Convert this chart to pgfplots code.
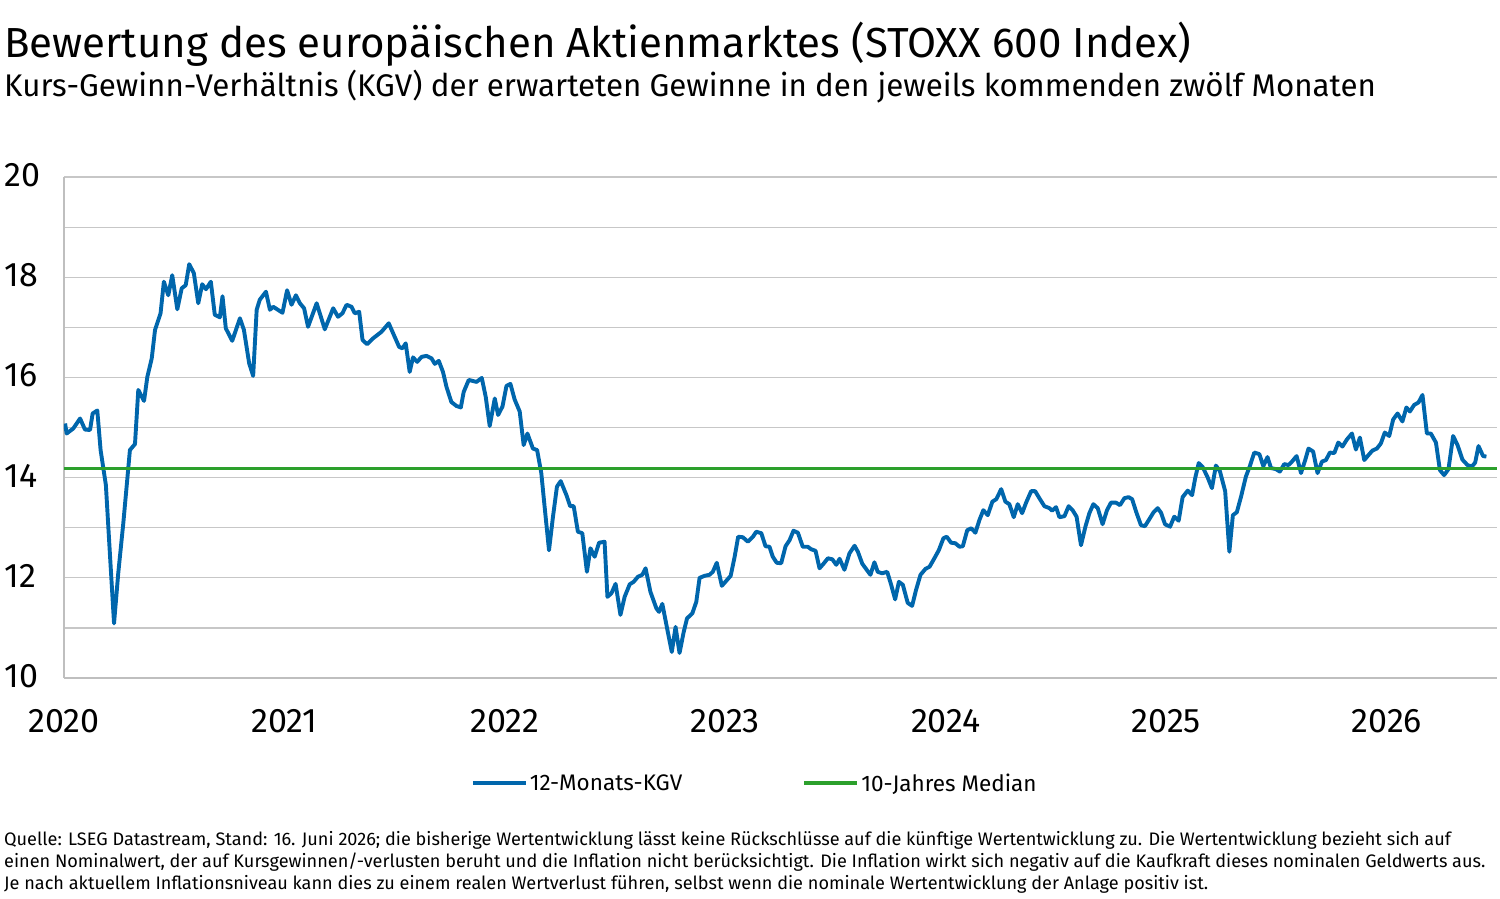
\documentclass[border=0pt]{standalone}
\usepackage{fontspec}
\setmainfont{Fira Sans}
\usepackage{pgfplots}
\pgfplotsset{compat=1.18}
\definecolor{kgvblue}{RGB}{0,102,172}
\definecolor{medgreen}{RGB}{44,160,44}
\begin{document}
\begin{tikzpicture}[x=1pt,y=1pt]
\path[use as bounding box] (0,0) rectangle (1500,-898);
\node[anchor=base west, inner sep=0] at (4,-57) {\fontsize{42}{50}\selectfont Bewertung des europäischen Aktienmarktes (STOXX 600 Index)};
\node[anchor=base west, inner sep=0] at (4,-96) {\fontsize{31.3}{37}\selectfont Kurs-Gewinn-Verhältnis (KGV) der erwarteten Gewinne in den jeweils kommenden zwölf Monaten};
\begin{axis}[
  at={(64pt,-678pt)}, anchor=south west,
  scale only axis, width=1433pt, height=501pt,
  xmin=2020, xmax=2026.5, ymin=10, ymax=20,
  xtick={2020,2021,2022,2023,2024,2025,2026},
  xticklabels={2020,2021,2022,2023,2024,2025,2026},
  ytick={10,11,12,13,14,15,16,17,18,19,20},
  yticklabels={10,{},12,{},14,{},16,{},18,{},20},
  ymajorgrids, grid style={black!22, line width=1.2pt},
  axis lines*=left, axis line style={black!25, line width=1.2pt},
  major tick length=0pt,
  tick label style={font=\fontsize{34}{40}\selectfont},
  yticklabel style={anchor=west, xshift=-63pt, yshift=2pt},
  xticklabel style={anchor=north, yshift=-28pt},
  legend style={at={(0.482,-0.21)}, anchor=center, draw=none, fill=none,
    font=\fontsize{22.5}{27}\selectfont,
    /tikz/every even column/.append style={column sep=118pt}},
  legend columns=2,
  legend image code/.code={\draw[#1,line width=4pt] (-3pt,0pt) -- (50pt,0pt);},
]
\addplot[kgvblue, line width=3.9pt, line join=round] table {
2020.005 15.08
2020.012 14.88
2020.042 14.98
2020.073 15.18
2020.095 14.96
2020.118 14.95
2020.130 15.28
2020.151 15.34
2020.166 14.55
2020.190 13.85
2020.209 12.42
2020.227 11.09
2020.246 12.09
2020.269 13.09
2020.299 14.55
2020.322 14.67
2020.337 15.75
2020.363 15.53
2020.378 16.01
2020.398 16.38
2020.413 16.95
2020.438 17.28
2020.453 17.91
2020.473 17.64
2020.491 18.04
2020.514 17.36
2020.534 17.78
2020.552 17.84
2020.568 18.26
2020.589 18.08
2020.609 17.48
2020.627 17.86
2020.644 17.76
2020.666 17.91
2020.684 17.25
2020.707 17.20
2020.719 17.62
2020.734 16.98
2020.763 16.73
2020.798 17.18
2020.816 16.95
2020.840 16.28
2020.858 16.03
2020.874 17.35
2020.888 17.55
2020.916 17.71
2020.934 17.35
2020.949 17.41
2020.991 17.29
2021.012 17.74
2021.032 17.45
2021.052 17.64
2021.070 17.48
2021.089 17.38
2021.107 17.01
2021.146 17.48
2021.183 16.96
2021.221 17.38
2021.243 17.21
2021.263 17.28
2021.282 17.45
2021.304 17.41
2021.319 17.28
2021.339 17.31
2021.354 16.75
2021.375 16.66
2021.402 16.78
2021.440 16.91
2021.473 17.08
2021.496 16.85
2021.520 16.61
2021.535 16.58
2021.550 16.68
2021.568 16.11
2021.583 16.40
2021.602 16.31
2021.622 16.41
2021.644 16.43
2021.667 16.38
2021.682 16.27
2021.700 16.33
2021.719 16.11
2021.735 15.81
2021.757 15.51
2021.780 15.43
2021.800 15.40
2021.813 15.71
2021.836 15.95
2021.871 15.91
2021.895 15.99
2021.913 15.61
2021.931 15.03
2021.954 15.58
2021.969 15.25
2021.989 15.42
2022.007 15.83
2022.025 15.87
2022.044 15.56
2022.067 15.32
2022.085 14.65
2022.102 14.88
2022.127 14.58
2022.146 14.55
2022.165 14.09
2022.180 13.42
2022.200 12.55
2022.218 13.22
2022.236 13.82
2022.253 13.93
2022.279 13.65
2022.296 13.43
2022.312 13.43
2022.331 12.92
2022.351 12.89
2022.372 12.12
2022.388 12.59
2022.407 12.42
2022.427 12.70
2022.452 12.72
2022.465 11.62
2022.483 11.69
2022.502 11.88
2022.524 11.26
2022.543 11.62
2022.566 11.87
2022.584 11.92
2022.603 12.02
2022.623 12.06
2022.638 12.19
2022.660 11.72
2022.687 11.39
2022.699 11.32
2022.714 11.48
2022.737 10.96
2022.757 10.52
2022.774 11.02
2022.792 10.50
2022.811 10.92
2022.826 11.19
2022.850 11.29
2022.868 11.52
2022.883 12.00
2022.906 12.04
2022.928 12.06
2022.943 12.12
2022.961 12.30
2022.984 11.84
2023.004 11.94
2023.024 12.04
2023.042 12.42
2023.058 12.82
2023.079 12.81
2023.102 12.72
2023.125 12.82
2023.140 12.92
2023.163 12.89
2023.182 12.63
2023.200 12.62
2023.215 12.42
2023.233 12.30
2023.253 12.29
2023.273 12.63
2023.291 12.75
2023.309 12.94
2023.329 12.90
2023.351 12.62
2023.374 12.62
2023.389 12.57
2023.409 12.54
2023.427 12.19
2023.445 12.28
2023.465 12.39
2023.485 12.37
2023.503 12.26
2023.518 12.38
2023.540 12.16
2023.563 12.49
2023.586 12.64
2023.601 12.52
2023.621 12.28
2023.641 12.16
2023.658 12.06
2023.676 12.31
2023.691 12.12
2023.711 12.09
2023.734 12.12
2023.752 11.86
2023.770 11.57
2023.787 11.92
2023.805 11.86
2023.827 11.50
2023.847 11.44
2023.865 11.76
2023.885 12.06
2023.908 12.18
2023.926 12.22
2023.948 12.39
2023.968 12.55
2023.989 12.79
2024.004 12.82
2024.024 12.70
2024.043 12.69
2024.062 12.62
2024.077 12.63
2024.097 12.95
2024.115 12.99
2024.134 12.90
2024.152 13.15
2024.170 13.35
2024.190 13.25
2024.211 13.52
2024.229 13.57
2024.251 13.77
2024.270 13.52
2024.288 13.47
2024.308 13.21
2024.326 13.47
2024.346 13.29
2024.364 13.50
2024.387 13.73
2024.405 13.73
2024.424 13.59
2024.447 13.43
2024.470 13.39
2024.482 13.34
2024.500 13.41
2024.515 13.21
2024.538 13.23
2024.557 13.43
2024.575 13.35
2024.593 13.22
2024.613 12.65
2024.633 13.02
2024.651 13.29
2024.669 13.47
2024.689 13.39
2024.711 13.07
2024.731 13.35
2024.749 13.50
2024.772 13.50
2024.790 13.45
2024.810 13.59
2024.829 13.61
2024.845 13.57
2024.863 13.32
2024.885 13.05
2024.903 13.03
2024.923 13.17
2024.941 13.30
2024.961 13.39
2024.976 13.30
2024.994 13.07
2025.017 13.02
2025.036 13.22
2025.056 13.14
2025.074 13.61
2025.097 13.74
2025.117 13.65
2025.131 13.99
2025.147 14.29
2025.165 14.21
2025.187 14.01
2025.207 13.79
2025.225 14.24
2025.243 14.13
2025.267 13.73
2025.286 12.52
2025.302 13.25
2025.320 13.31
2025.339 13.62
2025.361 14.02
2025.379 14.23
2025.399 14.50
2025.422 14.47
2025.440 14.23
2025.459 14.41
2025.475 14.19
2025.497 14.17
2025.515 14.12
2025.535 14.27
2025.554 14.25
2025.570 14.32
2025.591 14.43
2025.611 14.09
2025.630 14.35
2025.645 14.58
2025.666 14.52
2025.686 14.09
2025.706 14.32
2025.724 14.35
2025.742 14.50
2025.762 14.49
2025.780 14.70
2025.799 14.62
2025.819 14.76
2025.842 14.88
2025.860 14.56
2025.878 14.80
2025.898 14.35
2025.917 14.45
2025.935 14.54
2025.955 14.58
2025.973 14.68
2025.991 14.90
2026.011 14.83
2026.029 15.16
2026.049 15.28
2026.071 15.12
2026.089 15.40
2026.105 15.32
2026.124 15.45
2026.144 15.50
2026.162 15.65
2026.182 14.88
2026.200 14.88
2026.223 14.70
2026.241 14.15
2026.260 14.05
2026.280 14.17
2026.301 14.83
2026.321 14.65
2026.343 14.36
2026.366 14.25
2026.386 14.22
2026.401 14.30
2026.416 14.63
2026.437 14.43
2026.452 14.42
};
\addlegendentry{12-Monats-KGV}
\addplot[medgreen, line width=2.6pt] table {
2020.0 14.18
2026.5 14.18
};
\addlegendentry{10-Jahres Median}
\end{axis}
\node[anchor=base west, inner sep=0] at (4,-845) {\fontsize{18.1}{22}\selectfont Quelle: LSEG Datastream, Stand: 16. Juni 2026; die bisherige Wertentwicklung lässt keine Rückschlüsse auf die künftige Wertentwicklung zu. Die Wertentwicklung bezieht sich auf};
\node[anchor=base west, inner sep=0] at (4,-867) {\fontsize{18.1}{22}\selectfont einen Nominalwert, der auf Kursgewinnen/-verlusten beruht und die Inflation nicht berücksichtigt. Die Inflation wirkt sich negativ auf die Kaufkraft dieses nominalen Geldwerts aus.};
\node[anchor=base west, inner sep=0] at (4,-889) {\fontsize{18.1}{22}\selectfont Je nach aktuellem Inflationsniveau kann dies zu einem realen Wertverlust führen, selbst wenn die nominale Wertentwicklung der Anlage positiv ist.};
\end{tikzpicture}
\end{document}
